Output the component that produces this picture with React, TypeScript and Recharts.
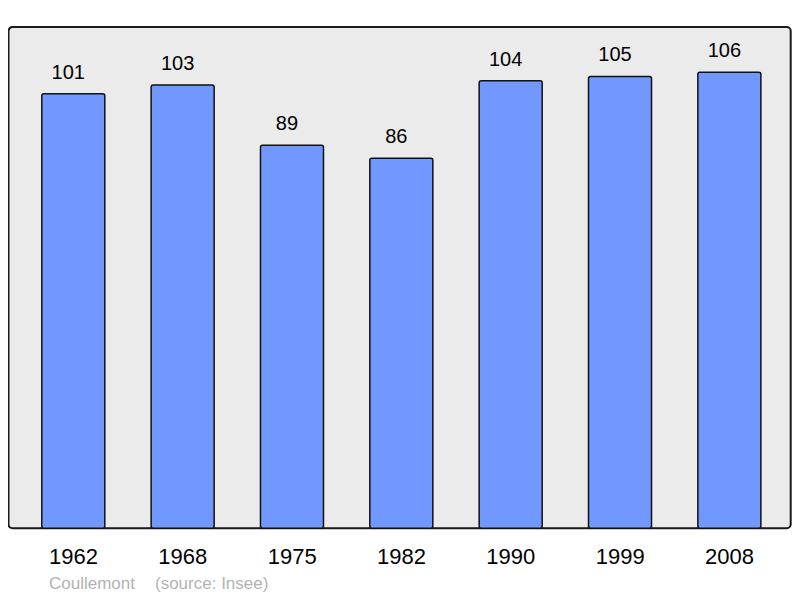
import React from "react";
import {
  BarChart,
  Bar,
  XAxis,
  YAxis,
  ReferenceArea,
  LabelList,
} from "recharts";

const years = ["1962", "1968", "1975", "1982", "1990", "1999", "2008"];
const population = [101, 103, 89, 86, 104, 105, 106];
const commune = "Coullemont";
const source = "(source: Insee)";

const data = years.map((year, i) => ({ year, pop: population[i] }));

const FONT = '"Liberation Sans", Arial, sans-serif';

export default function App() {
  return (
    <div style={{ position: "relative", width: 790, height: 590, fontFamily: FONT }}>
      <BarChart
        width={790}
        height={590}
        data={data}
        margin={{ top: 19, right: 7.3, left: 0.5, bottom: 29.7 }}
      >
        <XAxis xAxisId="box" type="number" hide />
        <YAxis domain={[0, 116.5]} hide />
        <ReferenceArea
          xAxisId="box"
          y1={0}
          y2={116.5}
          fill="#ebebeb"
          fillOpacity={1}
          stroke="#1a1a1a"
          strokeWidth={2}
          radius={4}
          ifOverflow="visible"
        />
        <XAxis
          dataKey="year"
          height={40}
          padding={{ left: 10.3, right: 6.5 }}
          axisLine={false}
          tickLine={false}
          tickMargin={14}
          interval={0}
          tick={{ fontSize: 22, fill: "#000", fontFamily: FONT }}
        />
        <Bar
          dataKey="pop"
          barSize={63}
          fill="#7098ff"
          stroke="#111"
          strokeWidth={1.5}
          radius={2}
          isAnimationActive={false}
        >
          <LabelList
            dataKey="pop"
            position="top"
            offset={15}
            dx={-5}
            style={{ fontSize: 20, fill: "#000", fontFamily: FONT }}
          />
        </Bar>
      </BarChart>
      <div
        style={{
          position: "absolute",
          left: 41,
          top: 567,
          fontSize: 17,
          lineHeight: "17px",
          color: "#b3b3b3",
          whiteSpace: "pre",
        }}
      >
        {commune}
        <span style={{ position: "absolute", left: 106 }}>{source}</span>
      </div>
    </div>
  );
}
